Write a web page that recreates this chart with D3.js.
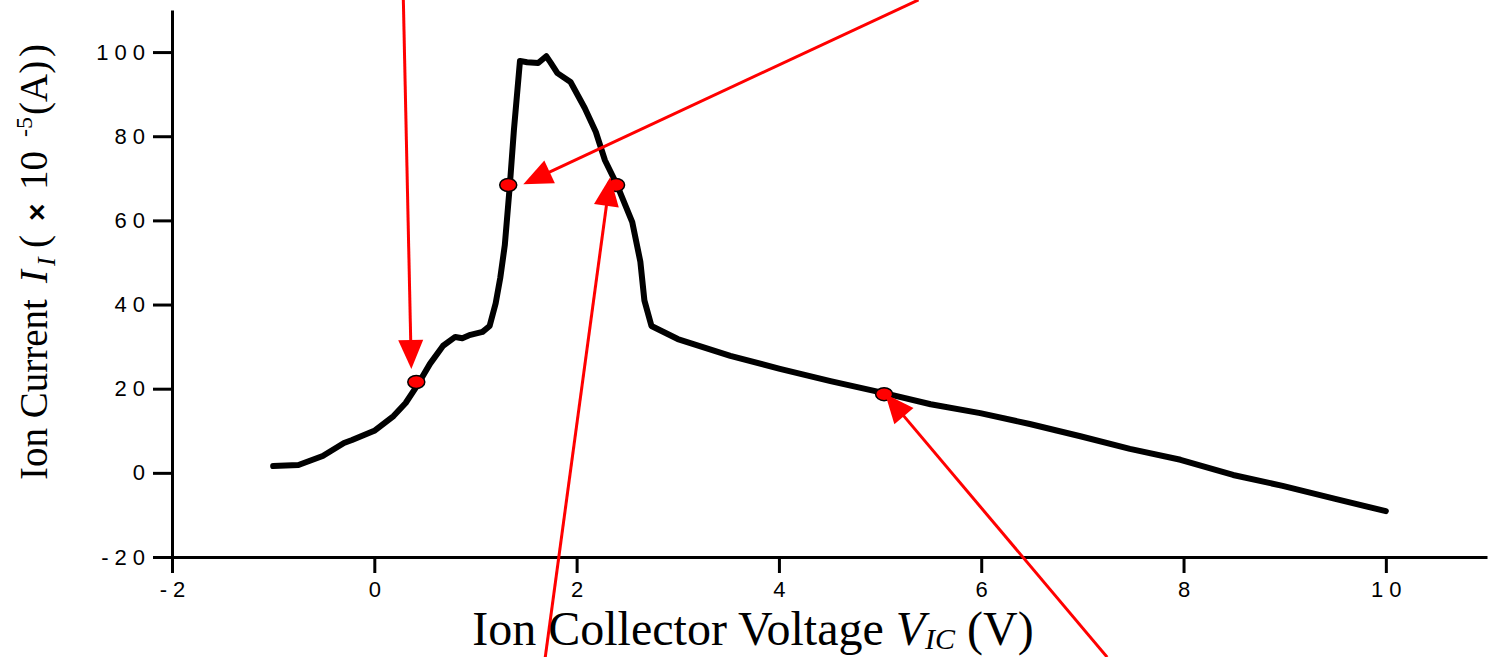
<!DOCTYPE html>
<html><head><meta charset="utf-8">
<script src="https://cdn.jsdelivr.net/npm/d3@7"></script>
<style>body{margin:0;background:#fff}</style>
</head><body>
<svg id="c" width="1489" height="657" style="overflow:hidden"></svg>
<script>
// ---- data ----
const voltage = [-1.0,-0.75,-0.51,-0.30,-0.22,0.0,0.19,0.31,0.42,0.55,0.68,0.80,0.87,0.95,1.07,1.14,1.20,1.245,1.29,1.34,1.38,1.44,1.51,1.62,1.70,1.74,1.81,1.94,2.08,2.15,2.19,2.28,2.40,2.55,2.63,2.67,2.74,3.0,3.52,4.01,4.51,5.03,5.50,5.99,6.48,6.98,7.47,7.97,8.49,8.98,9.50,10.0];
const current = [1.6,1.85,4.0,7.1,7.8,10.0,13.5,16.6,20.6,25.9,30.2,32.3,32.0,32.8,33.5,34.9,40.3,46.3,54.1,68.4,81.4,97.9,97.6,97.4,99.0,97.6,95.0,92.9,86.7,83.1,81.0,74.3,68.4,59.6,50.2,41.0,34.9,31.8,27.8,24.7,21.8,19.0,16.3,14.2,11.6,8.7,5.7,3.1,-0.5,-3.1,-6.2,-9.1];
const xTicks = [-2,0,2,4,6,8,10];
const xMinorTicks = [-1,1,3,5,7,9,11];
const yTicks = [-20,0,20,40,60,80,100];
const yMinorTicks = [-10,10,30,50,70,90,110];
const markerX = [0.415,1.324,2.39,5.04];
const markerY = [21.6,68.4,68.4,18.7];
const arrowTailX = [0.287,5.38,1.69,7.245];
const arrowTailY = [112.4,112.4,-43.8,-43.8];
const arrowTipX = [0.366,1.473,2.333,5.051];
const arrowTipY = [24.7,68.6,70.3,18.75];

// ---- chart ----
const svg = d3.select("#c");
const x = d3.scaleLinear().domain([-2,11]).range([172,1487]);
const y = d3.scaleLinear().domain([-20,110]).range([557,10]);
const fmt = d => (d<0 ? "-" + Math.abs(d) : String(d));
const sans = "'Liberation Sans',Arial,sans-serif";
const serif = "'Liberation Serif','Times New Roman',serif";

const gx = svg.append("g").attr("transform","translate(0,557)");
gx.call(d3.axisBottom(x).tickValues(xMinorTicks).tickSize(9).tickSizeOuter(0).tickFormat(""));
gx.call(d3.axisBottom(x).tickValues(xTicks).tickSize(16).tickSizeOuter(0).tickFormat(fmt).tickPadding(8));
gx.selectAll("path,line").attr("stroke","#000").attr("stroke-width",3);
gx.selectAll("text").attr("font-family",sans).attr("font-size",22)
  .attr("letter-spacing",6).attr("fill","#000").attr("dx",3);

const gy = svg.append("g").attr("transform","translate(172,0)");
gy.call(d3.axisLeft(y).tickValues(yMinorTicks).tickSize(9).tickSizeOuter(0).tickFormat(""));
gy.call(d3.axisLeft(y).tickValues(yTicks).tickSize(19).tickSizeOuter(0).tickFormat(fmt).tickPadding(8));
gy.selectAll("path,line").attr("stroke","#000").attr("stroke-width",3);
gy.selectAll("text").attr("font-family",sans).attr("font-size",22)
  .attr("letter-spacing",6).attr("fill","#000").attr("dx",6);

// curve
const pts = voltage.map((v,i)=>[v,current[i]]);
svg.append("path").datum(pts)
  .attr("d", d3.line().x(d=>x(d[0])).y(d=>y(d[1])))
  .attr("fill","none").attr("stroke","#000").attr("stroke-width",6)
  .attr("stroke-linejoin","round").attr("stroke-linecap","round");

// markers
svg.selectAll("ellipse.m").data(markerX).join("ellipse").attr("class","m")
  .attr("cx",(d)=>x(d)).attr("cy",(d,i)=>y(markerY[i]))
  .attr("rx",8.5).attr("ry",6.5).attr("fill","#ff0000").attr("stroke","#000").attr("stroke-width",1.5);

// arrows
const headLen = 29, headHalf = 12.5;
arrowTipX.forEach((tx,i)=>{
  const x1 = x(arrowTailX[i]), y1 = y(arrowTailY[i]);
  const x2 = x(tx), y2 = y(arrowTipY[i]);
  const dx = x2-x1, dy = y2-y1, L = Math.hypot(dx,dy);
  const ux = dx/L, uy = dy/L;
  const bx = x2-ux*headLen, by = y2-uy*headLen;
  svg.append("line").attr("x1",x1).attr("y1",y1).attr("x2",bx+ux*2).attr("y2",by+uy*2)
    .attr("stroke","#ff0000").attr("stroke-width",3);
  svg.append("path")
    .attr("d",`M${x2},${y2}L${bx-uy*headHalf},${by+ux*headHalf}L${bx+uy*headHalf},${by-ux*headHalf}Z`)
    .attr("fill","#ff0000");
});

// x title
const xt = svg.append("text").attr("x",753).attr("y",645).attr("text-anchor","middle")
  .attr("font-family",serif).attr("font-size",48).attr("fill","#000");
xt.append("tspan").text("Ion Collector Voltage ");
xt.append("tspan").attr("font-style","italic").text("V");
xt.append("tspan").attr("font-style","italic").attr("font-size",30).attr("dy",4).text("IC");
xt.append("tspan").attr("dy",-4).text(" (V)");

// y title (rotated; tspan x = -screenY of each piece's start)
const yt = svg.append("text").attr("transform","translate(47,0) rotate(-90)")
  .attr("font-family",serif).attr("font-size",39).attr("fill","#000");
yt.append("tspan").attr("x",-480).text("Ion Current");
yt.append("tspan").attr("x",-283).attr("font-style","italic").text("I");
yt.append("tspan").attr("x",-266).attr("font-style","italic").attr("font-size",26).attr("dy",8).text("I");
yt.append("tspan").attr("x",-248).attr("dy",-8).text("(");
yt.append("tspan").attr("x",-221).attr("font-family",sans).attr("font-weight","bold").attr("font-size",30).text("×");
yt.append("tspan").attr("x",-190).text("10");
yt.append("tspan").attr("x",-137).attr("font-size",24).attr("dy",-15).text("-5");
yt.append("tspan").attr("x",-115).attr("dy",15).text("(A)");
yt.append("tspan").attr("x",-57).text(")");
</script>
</body></html>
